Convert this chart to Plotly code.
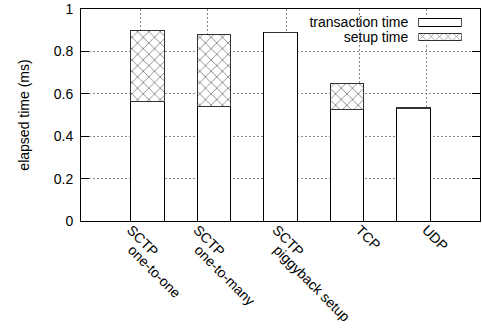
import plotly.graph_objects as go

# Protocol variants and measured times (ms)
categories = ["SCTP one-to-one", "SCTP one-to-many", "SCTP piggyback setup", "TCP", "UDP"]
transaction_time = [0.563, 0.542, 0.890, 0.528, 0.533]
setup_time = [0.337, 0.338, 0.0, 0.122, 0.003]

# x tic labels, split into first / second text line, and the tic positions
label_line1 = ["SCTP", "SCTP", "SCTP", "", ""]
label_line2 = ["one-to-one", "one-to-many", "piggyback setup", "", ""]
label_single = ["", "", "", "TCP", "UDP"]
tic_positions = [-0.1, 0.9, 2.09, 3.19, 4.19]

legend_labels = ["setup time", "transaction time"]
y_ticks = [0, 0.2, 0.4, 0.6, 0.8, 1]

FONT = "Liberation Sans, Arial, sans-serif"
GRID = dict(showgrid=True, gridcolor="#888", griddash="2px,2px", gridwidth=1)
hatch = dict(shape="x", size=8, solidity=0.2, fgcolor="black", bgcolor="white")

fig = go.Figure()

fig.add_trace(go.Bar(
    x=categories, y=transaction_time, width=0.5,
    marker=dict(color="white", line=dict(color="black", width=1)),
    showlegend=False,
))
fig.add_trace(go.Bar(
    x=categories, y=setup_time, width=0.5,
    marker=dict(color="white", pattern=hatch, line=dict(color="#333", width=1)),
    showlegend=False,
))

# Key: two short horizontal bars on their own small axis pair
fig.add_trace(go.Bar(
    y=[legend_labels[1]], x=[1], orientation="h", width=0.5,
    xaxis="x2", yaxis="y2",
    marker=dict(color="white", line=dict(color="black", width=1)),
    showlegend=False, hoverinfo="skip",
))
fig.add_trace(go.Bar(
    y=[legend_labels[0]], x=[1], orientation="h", width=0.5,
    xaxis="x2", yaxis="y2",
    marker=dict(color="white", pattern=dict(hatch, size=6), line=dict(color="#333", width=1)),
    showlegend=False, hoverinfo="skip",
))

tic_axis = dict(
    overlaying="x", anchor="y", side="bottom", range=[-1, 5],
    tickmode="array", tickvals=tic_positions, ticks="",
    tickangle=45, tickfont=dict(size=14), showline=False,
    zeroline=False, fixedrange=True,
)

fig.update_layout(
    width=482, height=328,
    margin=dict(l=81, r=2, t=9, b=107),
    paper_bgcolor="white", plot_bgcolor="white",
    barmode="stack",
    font=dict(family=FONT, size=14, color="black"),
    xaxis=dict(
        type="category", range=[-1, 5],
        showticklabels=False, ticks="", showgrid=False,
        showline=True, linecolor="black", linewidth=1, mirror=True,
        zeroline=False,
    ),
    yaxis=dict(
        range=[0, 1], tickvals=y_ticks,
        ticks="inside", ticklen=8, tickcolor="black",
        showline=True, linecolor="black", linewidth=1, mirror="ticks",
        zeroline=False, ticklabelstandoff=4,
        title=dict(text="elapsed time (ms)", font=dict(size=14), standoff=20),
        **GRID,
    ),
    # vertical grid lines plus the single-line labels
    xaxis3=dict(tic_axis, ticktext=label_single, ticklabelstandoff=-3, **GRID),
    # two-line labels, one axis per text line
    xaxis4=dict(tic_axis, ticktext=label_line1, ticklabelstandoff=-3,
                ticklabelshift=-10, showgrid=False),
    xaxis5=dict(tic_axis, ticktext=label_line2, ticklabelstandoff=17,
                ticklabelshift=-9, showgrid=False),
    xaxis2=dict(
        domain=[0.8454, 0.9541], range=[0, 1], anchor="y2",
        visible=False, fixedrange=True,
    ),
    yaxis2=dict(
        domain=[0.8337, 0.9705], range=[-0.5, 1.5], anchor="x2",
        type="category", categoryorder="array", categoryarray=legend_labels,
        tickmode="array", tickvals=legend_labels, ticktext=legend_labels,
        showgrid=False, zeroline=False, showline=False, ticks="",
        ticklabelstandoff=9, tickfont=dict(size=14), fixedrange=True,
    ),
    shapes=[dict(
        type="rect", xref="paper", yref="paper",
        x0=0.49, x1=0.985, y0=0.83, y1=0.986,
        fillcolor="white", line=dict(width=0), layer="between",
    )],
)

# empty traces so that the label axes are drawn
for ax in ("x3", "x4", "x5"):
    fig.add_trace(go.Scatter(x=[None], y=[None], xaxis=ax, yaxis="y",
                             showlegend=False, hoverinfo="skip"))

fig.write_html("out.html")
